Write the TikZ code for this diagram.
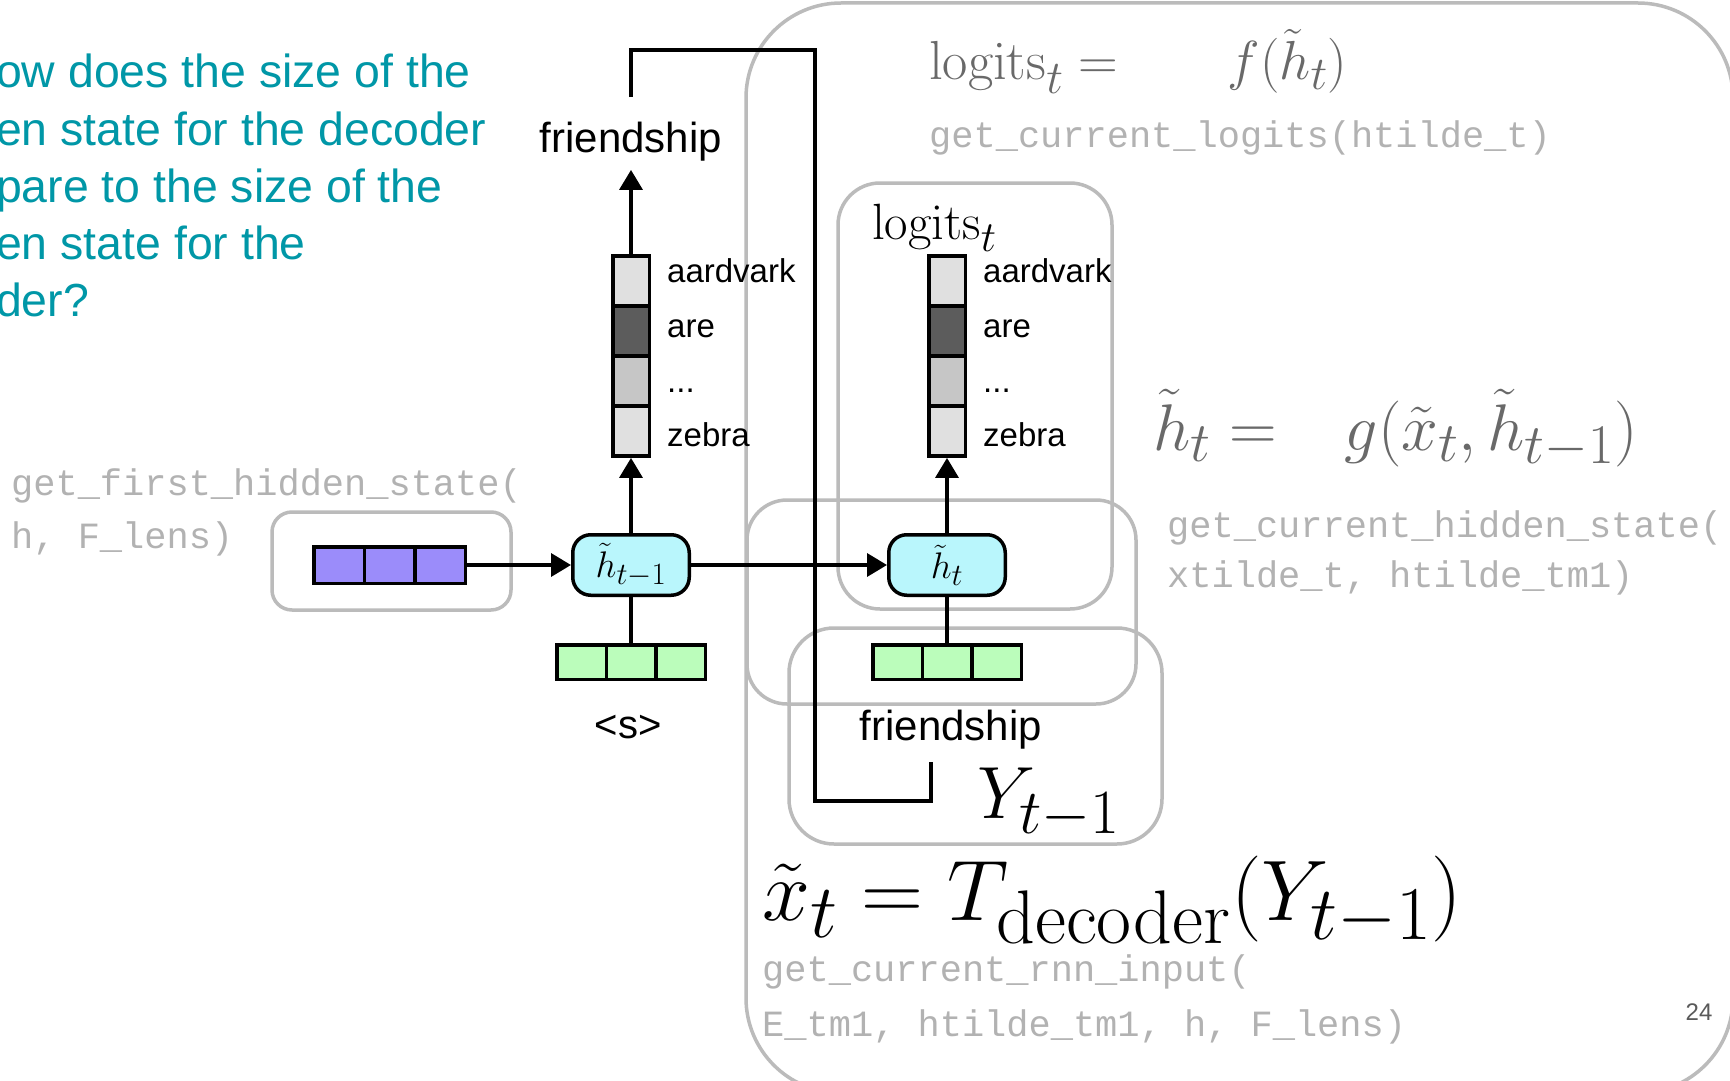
\RequirePackage{fix-cm}
\documentclass[tikz,border=0pt]{standalone}
\usepackage[no-math]{fontspec}
\usetikzlibrary{arrows.meta}
\newfontfamily\labelfont{Liberation Sans}
\newfontfamily\codefont{Liberation Mono}
\DeclareMathSizes{86}{86}{76}{62}
\DeclareMathSizes{74}{74}{63}{52}
\DeclareMathSizes{66}{66}{56}{46}
\DeclareMathSizes{55}{55}{47}{38}
\DeclareMathSizes{51}{51}{43}{36}
\DeclareMathSizes{37}{37}{31}{26}
\definecolor{qteal}{RGB}{0,151,167}
\definecolor{boxgrey}{RGB}{187,187,187}
\definecolor{codegrey}{RGB}{178,178,178}
\definecolor{eqgrey}{RGB}{105,105,105}
\definecolor{hcyan}{RGB}{185,246,252}
\definecolor{vgreen}{RGB}{187,253,187}
\definecolor{vpurple}{RGB}{155,140,250}
\definecolor{smlight}{RGB}{224,224,224}
\definecolor{smdark}{RGB}{92,92,92}
\definecolor{smmid}{RGB}{198,198,198}
\definecolor{pagegrey}{RGB}{90,90,90}
\tikzset{
  greybox/.style={draw=boxgrey, line width=3.5pt, rounded corners=#1},
  conn/.style={line width=3.5pt, draw=black},
  arr/.style={conn, -{Triangle[length=20pt,width=23pt]}},
  cellbase/.style={draw=black, line width=3.5pt, inner sep=0pt},
  pcell/.style={cellbase, fill=vpurple, minimum width=50.5pt, minimum height=36.5pt},
  gcell/.style={cellbase, fill=vgreen, minimum width=49.5pt, minimum height=34.5pt},
  scell/.style={cellbase, fill=#1, minimum width=36.5pt, minimum height=50.1pt},
  hstate/.style={draw=black, line width=3.5pt, rounded corners=18pt, fill=hcyan,
    minimum width=116.5pt, minimum height=60.5pt, inner sep=0pt,
    font=\fontsize{37}{40}\selectfont},
  code/.style={anchor=base west, inner sep=0pt, text=codegrey,
    font=\codefont\fontsize{37}{40}\selectfont},
  word/.style={anchor=base west, inner sep=0pt, font=\labelfont\fontsize{33}{36}\selectfont},
  bigword/.style={anchor=base, inner sep=0pt, font=\labelfont\fontsize{42}{48}\selectfont},
  question/.style={anchor=base west, inner sep=0pt, text=qteal,
    font=\labelfont\fontsize{46.4}{54}\selectfont},
  eq/.style={anchor=base west, inner sep=0pt},
}
\begin{document}
\begin{tikzpicture}[x=1pt,y=-1pt]
\useasboundingbox (0,0) rectangle (1730,1081);
\clip (0,0) rectangle (1730,1081);
\fill[white] (0,0) rectangle (1730,1081);

% grey containers
\draw[greybox=95pt] (746,3) rectangle (1733,1093);
\draw[greybox=20pt] (272,512) rectangle (511,610);
\draw[greybox=42pt] (838,183) rectangle (1112,609);
\draw[greybox=40pt] (747,500) rectangle (1136,704);
\draw[greybox=45pt] (789,628) rectangle (1162,844);

% question text
\node[question] (q1) at (-4,88) {ow does the size of the};
\node[question] (q2) at (-4,145) {en state for the decoder};
\node[question] (q3) at (-4,202) {pare to the size of the};
\node[question] (q4) at (-4,259) {en state for the};
\node[question] (q5) at (-4,316) {der?};

% code texts
\node[code] (c1) at (11,495) {get\_first\_hidden\_state(};
\node[code] (c2) at (11,548) {h, F\_lens)};
\node[code] (c3) at (929,147) {get\_current\_logits(htilde\_t)};
\node[code] (c4) at (1167,537) {get\_current\_hidden\_state(};
\node[code] (c5) at (1167,587) {xtilde\_t, htilde\_tm1)};
\node[code] (c6) at (762,981) {get\_current\_rnn\_input(};
\node[code] (c7) at (762,1036) {E\_tm1, htilde\_tm1, h, F\_lens)};

% equations
\node[eq, text=eqgrey, font=\fontsize{55}{62}\selectfont] (eqlog) at (929,80)
  {$\mathrm{logits}_t =\hspace{94pt} f(\tilde{h}_t)$};
\node[eq, text=eqgrey, font=\fontsize{66}{74}\selectfont] (eqh) at (1153,450)
  {$\tilde{h}_t =\hspace{50pt} g(\tilde{x}_t,\tilde{h}_{t-1})$};
\node[eq, font=\fontsize{86}{94}\selectfont] (eqx) at (762,920)
  {$\tilde{x}_t = T_{\mathrm{decoder}}(Y_{t-1})$};
\node[eq, font=\fontsize{74}{80}\selectfont] (ylab) at (977,818) {$Y_{t-1}$};
\node[eq, font=\fontsize{51}{56}\selectfont] (loglab) at (872,239) {$\mathrm{logits}_t$};

% purple encoder vector
\node[pcell] (p1) at (339,565) {};
\node[pcell] (p2) at (389.5,565) {};
\node[pcell] (p3) at (440,565) {};

% hidden states
\node[hstate] (hm1) at (631,565) {$\tilde{h}_{t-1}$};
\node[hstate] (ht) at (947,565) {$\tilde{h}_t$};

% green input vectors
\node[gcell] (gl1) at (581.5,662) {};
\node[gcell] (gl2) at (631,662) {};
\node[gcell] (gl3) at (680.5,662) {};
\node[gcell] (gr1) at (897.5,662) {};
\node[gcell] (gr2) at (947,662) {};
\node[gcell] (gr3) at (996.5,662) {};

% softmax vectors
\node[scell=smlight] (sl1) at (631,280.8) {};
\node[scell=smdark]  (sl2) at (631,330.9) {};
\node[scell=smmid]   (sl3) at (631,381.0) {};
\node[scell=smlight] (sl4) at (631,431.1) {};
\node[scell=smlight] (sr1) at (947,280.8) {};
\node[scell=smdark]  (sr2) at (947,330.9) {};
\node[scell=smmid]   (sr3) at (947,381.0) {};
\node[scell=smlight] (sr4) at (947,431.1) {};

% vocabulary labels
\node[word] (wl1) at (667,282) {aardvark};
\node[word] (wl2) at (667,337) {are};
\node[word] (wl3) at (667,392) {...};
\node[word] (wl4) at (667,446) {zebra};
\node[word] (wr1) at (983,282) {aardvark};
\node[word] (wr2) at (983,337) {are};
\node[word] (wr3) at (983,392) {...};
\node[word] (wr4) at (983,446) {zebra};

% word labels
\node[bigword] (frtop) at (631,152) {friendship};
\node[bigword] (frbot) at (951,740) {friendship};
\node[bigword, font=\labelfont\fontsize{40}{46}\selectfont] (start) at (628,738) {<s>};
\node[anchor=base, inner sep=0pt, text=pagegrey, font=\labelfont\fontsize{24}{28}\selectfont] (pnum) at (1699,1020) {24};

% connectors
\draw[arr] (p3.east) -- (hm1.west);
\draw[arr] (hm1.east) -- (ht.west);
\draw[arr] (hm1.north) -- (sl4.south);
\draw[arr] (ht.north) -- (sr4.south);
\draw[arr, shorten >=9pt] (sl1.north) -- (frtop.south);
\draw[conn] (hm1.south) -- (gl2.north);
\draw[conn] (ht.south) -- (gr2.north);

% feedback of the predicted word
\coordinate (fb1) at (631,97);
\coordinate (fb2) at (815,50);
\coordinate (fb3) at (931,801);
\coordinate (fb4) at (931,762);
\draw[conn, line join=miter] (fb1) |- (fb2) |- (fb3) -- (fb4);
\end{tikzpicture}
\end{document}
